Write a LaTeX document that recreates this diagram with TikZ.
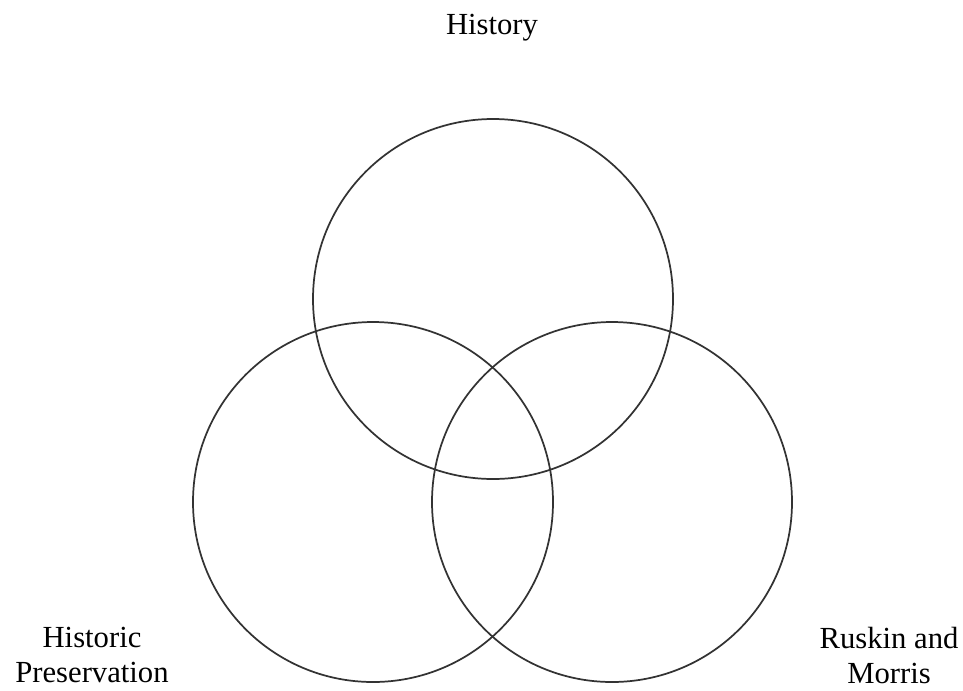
\documentclass[tikz,border=0pt]{standalone}
\usepackage{fontspec}
\setmainfont{Liberation Serif}
\usepackage{xcolor}
\definecolor{ringgray}{rgb}{0.2,0.2,0.2}
\usepackage{tikz}
\usetikzlibrary{positioning}

\begin{document}
\begin{tikzpicture}[
	x=0.75pt, y=-0.75pt,
	ring/.style={circle, draw=ringgray, line width=1.3pt, inner sep=0pt, minimum size=270pt},
	lbl/.style={align=center, inner sep=0pt, font=\fontsize{23}{26}\selectfont}
	]
\useasboundingbox (0,0) rectangle (963,690);

\node[ring] (hist) at (493,299) {};
\node[ring] (pres) at (373,502) {};
\node[ring] (rusk) at (612,502) {};

\node[lbl, anchor=base]  (thist) at (492,34)  {History};
\node[lbl, anchor=north] (tpres) at (92,627)  {Historic\\Preservation};
\node[lbl, anchor=north] (trusk) at (889,627) {Ruskin and\\Morris};
\end{tikzpicture}
\end{document}
